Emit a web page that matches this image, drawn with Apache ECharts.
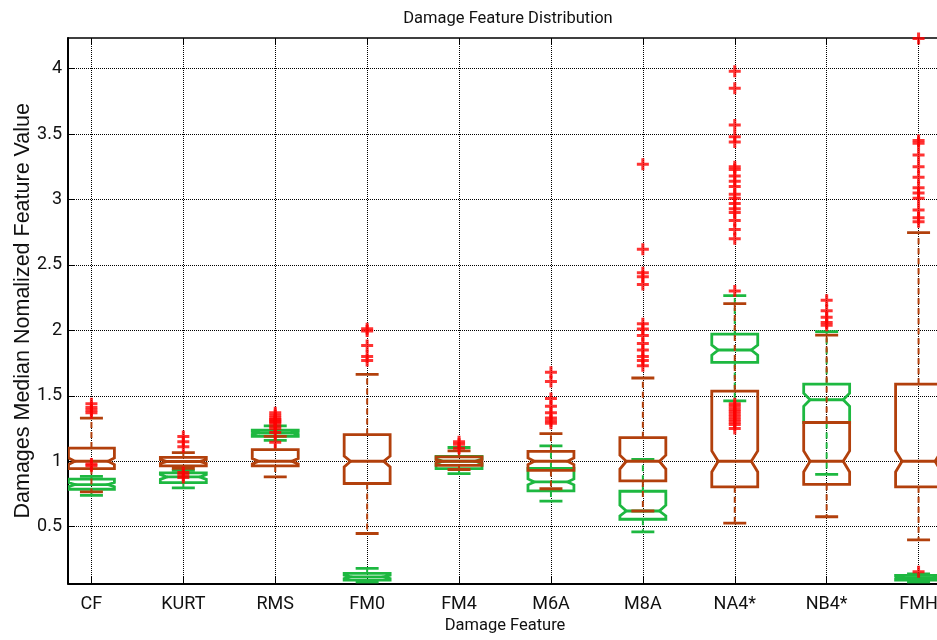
<!DOCTYPE html>
<html>
<head>
<meta charset="utf-8">
<script src="https://cdn.jsdelivr.net/npm/echarts@6/dist/echarts.min.js"></script>
<style>
html,body{margin:0;padding:0;background:#fff;}
#main{width:937px;height:640px;}
</style>
</head>
<body>
<div id="main"></div>
<script>
const categories = ['CF','KURT','RMS','FM0','FM4','M6A','M8A','NA4*','NB4*','FMH'];
const yTicks = [0.5,1,1.5,2,2.5,3,3.5,4];

// green group
const greenLow    = [0.74, 0.796, 1.16, 0.075, 0.906, 0.695, 0.46, 1.462, 0.90, 0.075];
const greenQ1     = [0.786, 0.837, 1.19, 0.092, 0.944, 0.773, 0.557, 1.755, 1.296, 0.092];
const greenNotchLo= [0.806, 0.862, 1.205, 0.104, 0.982, 0.82, 0.582, 1.811, 1.42, 0.10];
const greenMedian = [0.822, 0.88, 1.216, 0.117, 1.0, 0.842, 0.62, 1.85, 1.47, 0.11];
const greenNotchHi= [0.838, 0.898, 1.227, 0.13, 1.018, 0.865, 0.664, 1.888, 1.52, 0.12];
const greenQ3     = [0.863, 0.911, 1.237, 0.143, 1.038, 0.945, 0.771, 1.972, 1.589, 0.128];
const greenHigh   = [0.885, 0.93, 1.27, 0.181, 1.105, 1.117, 1.015, 2.265, 1.99, 0.14];
const greenOutliers = [
  [0.965, 0.98], [], [1.30, 1.32, 1.145], [], [], [], [],
  [1.25, 1.28, 1.30, 1.32, 1.34, 1.36, 1.38, 1.40, 1.42, 1.44, 2.30], [], [0.155]
];

// brown group
const brownLow    = [0.766, 0.945, 0.88, 0.448, 0.937, 0.79, 0.62, 0.528, 0.576, 0.40];
const brownQ1     = [0.944, 0.964, 0.964, 0.83, 0.969, 0.93, 0.85, 0.805, 0.824, 0.805];
const brownNotchLo= [0.975, 0.984, 0.98, 0.957, 0.99, 0.975, 0.94, 0.918, 0.918, 0.918];
const brownMedian = [1.0, 0.998, 1.0, 1.0, 1.0, 1.0, 1.0, 1.0, 1.0, 1.0];
const brownNotchHi= [1.025, 1.012, 1.02, 1.04, 1.01, 1.025, 1.046, 1.079, 1.079, 1.079];
const brownQ3     = [1.101, 1.03, 1.089, 1.204, 1.033, 1.076, 1.18, 1.536, 1.296, 1.589];
const brownHigh   = [1.33, 1.066, 1.19, 1.664, 1.079, 1.211, 1.636, 2.204, 1.964, 2.747];
const brownOutliers = [
  [1.37, 1.39, 1.41, 1.44],
  [1.11, 1.15, 1.19, 0.915, 0.895, 0.875],
  [1.22, 1.25, 1.27, 1.29, 1.31, 1.33, 1.35, 1.37],
  [1.77, 1.80, 1.885, 1.995, 2.013],
  [1.10, 1.13, 1.15],
  [1.29, 1.31, 1.33, 1.37, 1.42, 1.48, 1.61, 1.68],
  [1.73, 1.77, 1.80, 1.85, 1.90, 1.96, 2.01, 2.05, 2.35, 2.41, 2.44, 2.62, 3.27],
  [2.70, 2.77, 2.84, 2.90, 2.93, 2.97, 3.01, 3.04, 3.10, 3.14, 3.18, 3.23, 3.25, 3.44, 3.48, 3.57, 3.85, 3.98],
  [2.04, 2.06, 2.10, 2.15, 2.23],
  [2.83, 2.86, 2.92, 3.01, 3.05, 3.09, 3.17, 3.25, 3.34, 3.43, 3.45, 4.23]
];

const GREEN = '#1db840';
const BROWN = '#b2400c';
const RED = '#ff0000';
const NARROW = 'Roboto,"Liberation Sans",Arial,sans-serif';

function boxData(low,q1,nlo,med,nhi,q3,high){
  return categories.map((c,i)=>[i+1,low[i],q1[i],nlo[i],med[i],nhi[i],q3[i],high[i]]);
}
function outlierData(out){
  const d=[];
  out.forEach((arr,i)=>arr.forEach(v=>d.push([i+1,v])));
  return d;
}
function makeRender(color){
  return function(params, api){
    const pos=api.value(0), lo=api.value(1), q1=api.value(2), nlo=api.value(3),
      med=api.value(4), nhi=api.value(5), q3=api.value(6), hi=api.value(7);
    const P=(x,y)=>api.coord([x,y]);
    const hw=0.25, ins=0.18, cw=0.125;
    const pts=[P(pos-hw,q3),P(pos+hw,q3),P(pos+hw,nhi),P(pos+ins,med),P(pos+hw,nlo),
      P(pos+hw,q1),P(pos-hw,q1),P(pos-hw,nlo),P(pos-ins,med),P(pos-hw,nhi)];
    const dash={stroke:color,lineWidth:2,lineDash:[6,4],fill:null};
    const solid={stroke:color,lineWidth:2.8,fill:null};
    return {type:'group',children:[
      {type:'polyline',shape:{points:[P(pos,q3),P(pos,hi)]},style:dash},
      {type:'polyline',shape:{points:[P(pos,q1),P(pos,lo)]},style:dash},
      {type:'polyline',shape:{points:[P(pos-cw,hi),P(pos+cw,hi)]},style:solid},
      {type:'polyline',shape:{points:[P(pos-cw,lo),P(pos+cw,lo)]},style:solid},
      {type:'polygon',shape:{points:pts},style:{stroke:color,lineWidth:2.8,fill:null}},
      {type:'polyline',shape:{points:[P(pos-ins,med),P(pos+ins,med)]},style:solid}
    ]};
  };
}
const plusPath='path://M4.5,0h3v4.5h4.5v3h-4.5v4.5h-3v-4.5h-4.5v-3h4.5z';
const xCustom=categories.map((c,i)=>i+1);

const chart=echarts.init(document.getElementById('main'),null,{renderer:'canvas'});
chart.setOption({
  animation:false,
  backgroundColor:'#fff',
  title:{text:'Damage Feature Distribution',left:503,top:5,textAlign:'center',
    textStyle:{fontFamily:NARROW,fontSize:16.5,fontWeight:'normal',color:'#111'}},
  grid:{left:68,top:38,width:874,height:545.5,outerBoundsMode:'none',containLabel:false},
  xAxis:[{
    type:'value',min:0.745,max:10.255,position:'bottom',
    name:'Damage Feature',nameLocation:'middle',nameGap:34,nameMoveOverlap:false,
    nameTextStyle:{fontFamily:NARROW,fontSize:16.5,color:'#111'},
    axisLine:{show:true,onZero:false,lineStyle:{color:'#000',width:2}},
    axisTick:{show:true,inside:true,length:7,customValues:xCustom,lineStyle:{color:'#000',width:1}},
    axisLabel:{customValues:xCustom,margin:12,fontFamily:NARROW,fontSize:18,color:'#111',
      formatter:v=>categories[Math.round(v)-1]||''},
    splitLine:{show:true,lineStyle:{color:'#000',width:1,type:[1,1]}}
  },{
    type:'value',min:0.745,max:10.255,position:'top',
    axisLine:{show:true,onZero:false,lineStyle:{color:'#000',width:1.5}},
    axisTick:{show:true,inside:true,length:7,customValues:xCustom,lineStyle:{color:'#000',width:1}},
    axisLabel:{show:false},splitLine:{show:false}
  }],
  yAxis:[{
    type:'value',min:0.066,max:4.234,
    name:'Damages Median Nomalized Feature Value',nameLocation:'middle',nameGap:34,nameMoveOverlap:false,
    nameTextStyle:{fontFamily:'"Liberation Sans",Arial,sans-serif',fontSize:21.5,color:'#111'},
    axisLine:{show:true,onZero:false,lineStyle:{color:'#000',width:2}},
    axisTick:{show:true,inside:true,length:6,customValues:yTicks,lineStyle:{color:'#000'}},
    axisLabel:{customValues:yTicks,margin:6,fontFamily:NARROW,fontSize:18,color:'#111',
      formatter:v=>String(v)},
    splitLine:{show:true,lineStyle:{color:'#000',width:1,type:[1,1]}}
  }],
  series:[
    {type:'custom',name:'green',xAxisIndex:0,clip:true,renderItem:makeRender(GREEN),
      data:boxData(greenLow,greenQ1,greenNotchLo,greenMedian,greenNotchHi,greenQ3,greenHigh),z:3},
    {type:'custom',name:'brown',xAxisIndex:0,clip:true,renderItem:makeRender(BROWN),
      data:boxData(brownLow,brownQ1,brownNotchLo,brownMedian,brownNotchHi,brownQ3,brownHigh),z:4},
    {type:'scatter',xAxisIndex:0,symbol:plusPath,symbolSize:[12,12],
      itemStyle:{color:RED},data:outlierData(greenOutliers),z:5},
    {type:'scatter',xAxisIndex:0,symbol:plusPath,symbolSize:[12,12],
      itemStyle:{color:RED},data:outlierData(brownOutliers),z:5}
  ]
});
</script>
</body>
</html>
